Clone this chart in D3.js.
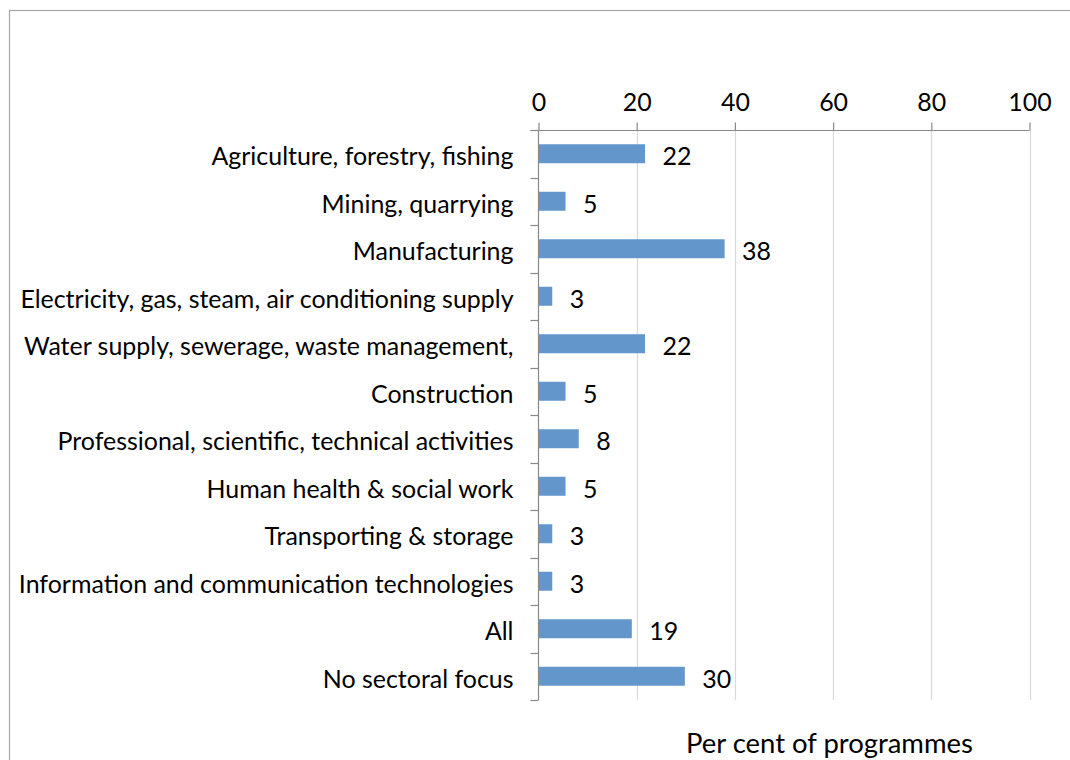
<!DOCTYPE html>
<html>
<head>
<meta charset="utf-8">
<script src="https://cdn.jsdelivr.net/npm/d3@7"></script>
<style>
  html, body { margin: 0; padding: 0; background: #fff; }
  svg { display: block; }
  text { font-family: Lato, "Open Sans", sans-serif; fill: #000; }
</style>
</head>
<body>
<svg id="chart" width="1070" height="760"></svg>
<script>
// ---- data ----
const categories = [
  "Agriculture, forestry, fishing",
  "Mining, quarrying",
  "Manufacturing",
  "Electricity, gas, steam, air conditioning supply",
  "Water supply, sewerage, waste management,",
  "Construction",
  "Professional, scientific, technical activities",
  "Human health & social work",
  "Transporting & storage",
  "Information and communication technologies",
  "All",
  "No sectoral focus"
];
const values = [21.6, 5.4, 37.8, 2.7, 21.6, 5.4, 8.1, 5.4, 2.7, 2.7, 18.9, 29.7];
const xTicks = [0, 20, 40, 60, 80, 100];
const axisTitle = "Per cent of programmes";

// ---- layout ----
const svg = d3.select("#chart");
const mLeft = 538.5, mRight = 1029.5, mTop = 130, mBottom = 700;
const barColor = "#6397CC";

// frame
svg.append("rect").attr("x", 9.5).attr("y", 10.5).attr("width", 1100).attr("height", 800)
  .attr("fill", "none").attr("stroke", "#a6a6a6").attr("stroke-width", 1.2);

const x = d3.scaleLinear().domain([0, 100]).range([mLeft, mRight]);
const y = d3.scaleBand().domain(categories).range([mTop, mBottom]).paddingInner(0.6).paddingOuter(0.3);

// font size fitted so longest label spans reference width
let fs = 21;
const probe = svg.append("text").attr("font-size", fs).text(categories[9]);
const w = probe.node().getComputedTextLength();
probe.remove();
fs = fs * 495 / w;

// gridlines
svg.append("g").selectAll("line").data(xTicks.filter(d => d > 0)).join("line")
  .attr("x1", d => Math.round(x(d)) + 0.5).attr("x2", d => Math.round(x(d)) + 0.5)
  .attr("y1", mTop).attr("y2", mBottom)
  .attr("stroke", "#d9d9d9").attr("stroke-width", 1.2);

// top axis
const gx = svg.append("g").attr("transform", `translate(0,${mTop + 0.5})`)
  .call(d3.axisTop(x).tickValues(xTicks).tickSize(8).tickPadding(12).tickSizeOuter(0));
gx.select(".domain").remove();
gx.selectAll(".tick line").attr("stroke", "#898989").attr("stroke-width", 1.2);
gx.selectAll(".tick text").attr("font-size", fs).attr("font-family", "Lato, sans-serif").attr("fill", "#000");
svg.append("line").attr("x1", mLeft - 8).attr("x2", mRight).attr("y1", mTop + 0.5).attr("y2", mTop + 0.5)
  .attr("stroke", "#898989").attr("stroke-width", 1.2);

// category axis line + boundary ticks
svg.append("line").attr("x1", mLeft).attr("x2", mLeft).attr("y1", mTop).attr("y2", mBottom)
  .attr("stroke", "#898989").attr("stroke-width", 1.2);
const step = y.step();
const boundaries = categories.map(c => y(c) - step * y.paddingInner() / 2).concat([mBottom]);
svg.append("g").selectAll("line").data(boundaries).join("line")
  .attr("x1", mLeft - 8).attr("x2", mLeft)
  .attr("y1", d => Math.round(d) + 0.5).attr("y2", d => Math.round(d) + 0.5)
  .attr("stroke", "#898989").attr("stroke-width", 1.2);

// bars
svg.append("g").selectAll("rect").data(categories).join("rect")
  .attr("x", x(0) + 0.5)
  .attr("y", d => y(d))
  .attr("width", (d, i) => x(values[i]) - x(0))
  .attr("height", y.bandwidth())
  .attr("fill", barColor);

// category labels
svg.append("g").selectAll("text").data(categories).join("text")
  .attr("x", mLeft - 25)
  .attr("y", d => y(d) + y.bandwidth() / 2 + 3)
  .attr("dy", "0.35em")
  .attr("text-anchor", "end")
  .attr("font-size", fs)
  .text(d => d);

// value labels
svg.append("g").selectAll("text").data(categories).join("text")
  .attr("x", (d, i) => x(values[i]) + 18)
  .attr("y", d => y(d) + y.bandwidth() / 2 + 3)
  .attr("dy", "0.35em")
  .attr("font-size", fs)
  .text((d, i) => Math.round(values[i]));

// axis title
svg.append("text").attr("x", 686).attr("y", 753).attr("font-size", fs * 1.1).text(axisTitle);
</script>
</body>
</html>
